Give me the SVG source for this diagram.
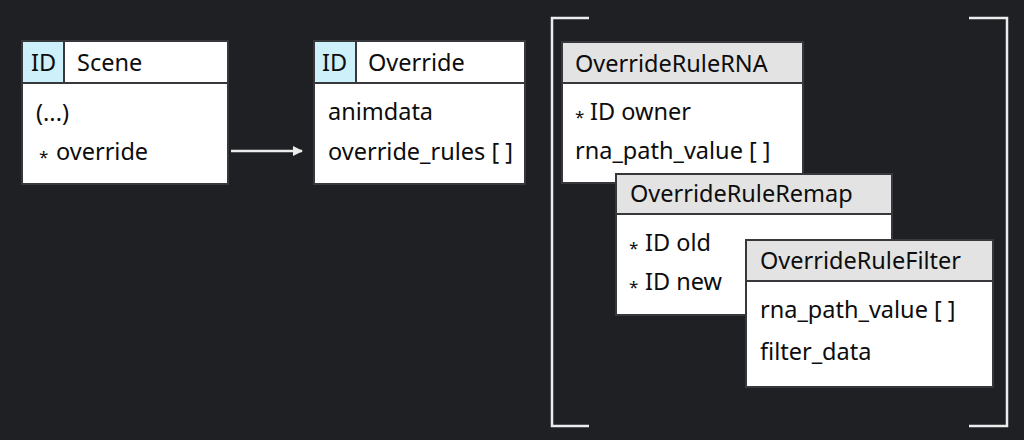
<svg xmlns="http://www.w3.org/2000/svg" width="1024" height="440" viewBox="0 0 1024 440">
<style>
text{font-family:"Noto Sans","DejaVu Sans",sans-serif;font-size:23.5px;fill:#0d0d0d}
.box{fill:#ffffff;stroke:#36383c;stroke-width:2}
.hdr{fill:#e3e3e3;stroke:#36383c;stroke-width:2}
.hdrw{fill:#ffffff;stroke:#36383c;stroke-width:2}
.id{fill:#cdf0fa;stroke:#36383c;stroke-width:2}
.star{font-size:17px}
.br{fill:none;stroke:#ececec;stroke-width:2.5}
.conn{stroke:#ececec;stroke-width:2.5;fill:none}
</style>
<defs>
<marker id="ah" markerWidth="10" markerHeight="10" refX="9" refY="5" orient="auto" markerUnits="userSpaceOnUse" viewBox="0 0 10 10">
<path d="M0,0 L10,5 L0,10 Z" fill="#ececec"/>
</marker>
</defs>
<rect width="1024" height="440" fill="#1f2024"/>

<g id="bracket">
<path class="br" d="M589,18 H552 V426 H589"/>
<path class="br" d="M969,18 H1007 V426 H969"/>
</g>

<g id="connectors">
<line class="conn" x1="231" y1="151" x2="302" y2="151" marker-end="url(#ah)"/>
</g>

<g id="scene">
<rect class="box" x="22" y="41" width="206" height="143"/>
<rect class="hdrw" x="22" y="41" width="206" height="42"/>
<rect class="id" x="22" y="41" width="42" height="42"/>
<text x="31" y="71">ID</text>
<text x="77" y="71">Scene</text>
<text x="36" y="121">(...)</text>
<text x="39" y="163" class="star">*</text>
<text x="56" y="160">override</text>
</g>

<g id="override">
<rect class="box" x="314" y="41" width="211" height="143"/>
<rect class="hdrw" x="314" y="41" width="211" height="42"/>
<rect class="id" x="314" y="41" width="42" height="42"/>
<text x="322" y="71">ID</text>
<text x="368" y="71">Override</text>
<text x="328" y="120">animdata</text>
<text x="328" y="160">override_rules [ ]</text>
</g>

<g id="rule-rna">
<rect class="box" x="562" y="42" width="241" height="141"/>
<rect class="hdr" x="562" y="42" width="241" height="41"/>
<text x="575" y="72">OverrideRuleRNA</text>
<text x="575" y="123" class="star">*</text>
<text x="590" y="120">ID owner</text>
<text x="575" y="159">rna_path_value [ ]</text>
</g>

<g id="rule-remap">
<rect class="box" x="616" y="174" width="276" height="141"/>
<rect class="hdr" x="616" y="174" width="276" height="40"/>
<text x="630" y="202">OverrideRuleRemap</text>
<text x="629" y="254" class="star">*</text>
<text x="645" y="251">ID old</text>
<text x="629" y="293" class="star">*</text>
<text x="645" y="290">ID new</text>
</g>

<g id="rule-filter">
<rect class="box" x="746" y="240" width="247" height="147"/>
<rect class="hdr" x="746" y="240" width="247" height="41"/>
<text x="760" y="269">OverrideRuleFilter</text>
<text x="760" y="318">rna_path_value [ ]</text>
<text x="760" y="360">filter_data</text>
</g>
</svg>
